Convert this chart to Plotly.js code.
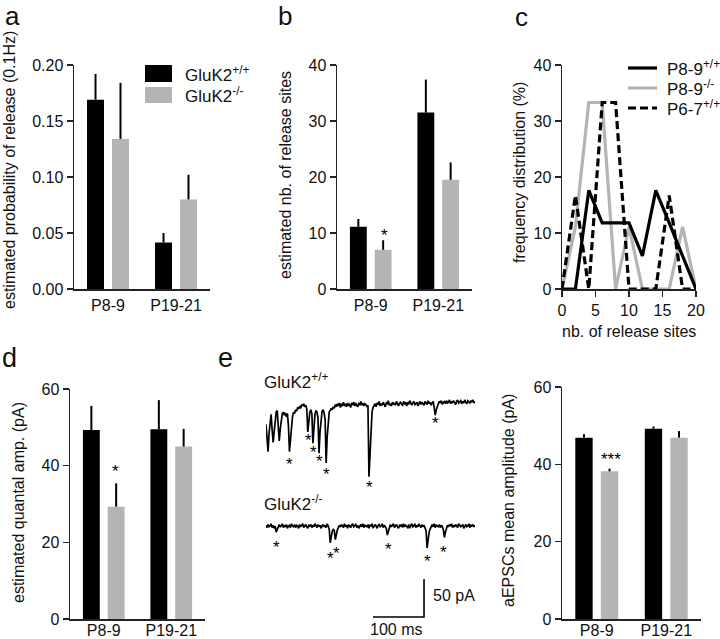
<!DOCTYPE html>
<html>
<head>
<meta charset="utf-8">
<script src="https://cdn.plot.ly/plotly-3.0.1.min.js"></script>
<style>html,body{margin:0;padding:0;background:#fff;}#chart{width:720px;height:639px;}</style>
</head>
<body>
<div id="chart"></div>
<script>
// ---------------- DATA ----------------
const ageGroups = ["P8-9", "P19-21"];
const genotypeNames = ["GluK2<sup>+/+</sup>", "GluK2<sup>-/-</sup>"];

// a: estimated probability of release (0.1Hz)
const probWT = [0.169, 0.0415];
const probWTerr = [0.023, 0.0085];
const probKO = [0.134, 0.080];
const probKOerr = [0.050, 0.022];

// b: estimated nb. of release sites
const sitesWT = [11.1, 31.5];
const sitesWTerr = [1.4, 5.9];
const sitesKO = [7.0, 19.5];
const sitesKOerr = [1.7, 3.1];

// c: frequency distribution (%) of nb. of release sites
const binCenters = [0, 2, 4, 6, 8, 10, 12, 14, 16, 18, 20];
const freqP89WT = [0, 0, 17.6, 11.8, 11.8, 11.8, 5.9, 17.6, 11.8, 5.9, 0];
const freqP89KO = [0, 11.1, 33.3, 33.3, 0, 11.1, 0, 0, 0, 11.1, 0];
const freqP67WT = [0, 16.7, 0, 33.3, 33.3, 0, 0, 0, 16.7, 0, 0];
const freqNames = ["P8-9<sup>+/+</sup>", "P8-9<sup>-/-</sup>", "P6-7<sup>+/+</sup>"];

// d: estimated quantal amp. (pA)
const quantWT = [49.3, 49.5];
const quantWTerr = [6.3, 7.6];
const quantKO = [29.3, 45.0];
const quantKOerr = [6.1, 4.6];

// e: aEPSCs mean amplitude (pA)
const aepscWT = [46.9, 49.2];
const aepscWTerr = [0.9, 0.6];
const aepscKO = [38.2, 46.9];
const aepscKOerr = [0.7, 1.7];

const zeroErr = [0, 0];

// e: example traces, current (pA) sampled every 2 ms from 0 to 410 ms
const sampleMs = 2;
const traceWT = [
 -28,-55,-64,-40,-22,-15,-35,-52,-38,-20,-12,-10,-30,-50,-34,-20,-14,-12,-16,-13,
 -18,-14,-30,-64,-45,-28,-18,-12,-14,-9,-11,-6,-8,-4,-7,-2,-4,-1,-5,-3,
 -8,-38,-22,-12,-9,-14,-53,-30,-15,-10,-12,-20,-66,-38,-18,-11,-9,-13,-22,-79,
 -45,-22,-12,-10,-7,-9,-5,
 -7,-2,-5,-1,-4,0,-6,-2,-3,1,-4,-1,-5,0,-3,-2,-6,-1,-2,1,-4,0,-3,-5,-1,-2,2,-3,0,-4,-1,-2,-5,
 -3,-97,-60,-28,-12,-6,
 -3,-1,-5,0,-2,2,-4,-1,-3,1,-2,-5,0,-1,3,-3,-1,-4,1,-2,0,-3,2,-1,-4,0,1,-2,-3,2,
 -1,0,-4,1,-2,3,-1,-3,0,2,-2,-1,1,-4,0,2,-2,1,-1,-3,2,0,-2,3,-1,1,-3,0,2,
 -6,-16,-9,-4,
 -1,2,0,3,-2,1,2,-1,3,0,1,4,-1,2,0,3,1,-2,2,4,0,1,3,-1,2,0,4,1,-1,3,2,0,3,1,4,0,2
];
const traceKO = [
 1,-2,2,-1,0,3,-2,1,-3,0,
 -8,-5,-2,
 2,-1,0,3,-2,1,-1,2,-3,0,1,-2,3,0,-1,2,-2,1,0,-3,2,-1,1,3,-2,0,2,-1,-3,1,0,2,-2,1,-1,3,0,-2,2,-1,1,-3,0,2,-1,1,-2,3,0,
 -4,-22,-14,-7,-4,-6,-18,-10,-5,-2,
 1,-1,2,0,-2,3,-1,1,-3,2,0,-2,1,3,-1,0,2,-2,1,-3,0,2,-1,3,-2,1,0,-1,2,-3,1,0,3,-2,-1,2,0,-3,1,2,-1,0,3,-2,1,-1,
 -3,-12,-6,-2,
 2,-1,1,3,-2,0,2,-1,-3,1,0,2,-2,3,-1,1,0,-2,2,-3,1,3,-1,0,2,-2,1,-1,3,0,-2,2,-1,1,-2,
 -6,-29,-16,-8,-4,
 0,2,-1,3,-2,1,0,-1,2,-2,1,-1,
 -5,-15,-8,-3,
 1,-1,2,0,3,-2,1,-1,2,0,-2,3,1,-1,0,2,-3,1,2,-1,0,3,-2,1,0,2,-1,1
];
// detected events (asterisks): time (ms), level (pA)
const starWTms = [46, 84, 93, 105, 119, 203, 333];
const starWTpA = [-74, -43, -58, -71, -88, -105, -21];
const starKOms = [21, 127, 139, 241, 316, 349];
const starKOpA = [-22, -36, -29, -24, -40, -28];
// scale bar
const scaleBarMs = 100;
const scaleBarPA = 50;

// ---------------- STYLE ----------------
const FONT = "Arial, 'Liberation Sans', Helvetica, sans-serif";
const INK = "#111111";
const BLACK = "#000000";
const GRAY = "#b4b4b4";
const W = 720, H = 639;
const px = v => v / W;
const py = v => 1 - v / H;

const tWT = traceWT.map((_, i) => i * sampleMs);
const tKO = traceKO.map((_, i) => i * sampleMs);

function barPair(xa, ya, wt, wtErr, ko, koErr) {
  const cat = [0, 1];
  const mk = (vals, err, col) => ({
    type: "bar", x: cat, y: vals, xaxis: xa, yaxis: ya,
    marker: { color: col, line: { width: 0 } }, showlegend: false, hoverinfo: "y",
    error_y: { type: "data", symmetric: false, array: err, arrayminus: zeroErr,
               color: BLACK, thickness: 2, width: 0, visible: true }
  });
  return [mk(wt, wtErr, BLACK), mk(ko, koErr, GRAY)];
}

const data = [
  ...barPair("x", "y", probWT, probWTerr, probKO, probKOerr),
  ...barPair("x2", "y2", sitesWT, sitesWTerr, sitesKO, sitesKOerr),
  ...barPair("x4", "y4", quantWT, quantWTerr, quantKO, quantKOerr),
  ...barPair("x5", "y5", aepscWT, aepscWTerr, aepscKO, aepscKOerr),
  { type: "scatter", mode: "lines", x: binCenters, y: freqP89KO, xaxis: "x3", yaxis: "y3",
    line: { color: GRAY, width: 3.2 }, showlegend: false },
  { type: "scatter", mode: "lines", x: binCenters, y: freqP67WT, xaxis: "x3", yaxis: "y3",
    line: { color: BLACK, width: 3.2, dash: "8px,4px" }, showlegend: false },
  { type: "scatter", mode: "lines", x: binCenters, y: freqP89WT, xaxis: "x3", yaxis: "y3",
    line: { color: BLACK, width: 3.2 }, showlegend: false },
  { type: "scatter", mode: "lines", x: tWT, y: traceWT, xaxis: "x6", yaxis: "y6",
    line: { color: BLACK, width: 1.7 }, showlegend: false, hoverinfo: "skip" },
  { type: "scatter", mode: "lines", x: tKO, y: traceKO, xaxis: "x6", yaxis: "y7",
    line: { color: BLACK, width: 1.7 }, showlegend: false, hoverinfo: "skip" },
  { type: "scatter", mode: "lines", xaxis: "x6", yaxis: "y7",
    x: [310 - scaleBarMs, 310, 310], y: [-119.7, -119.7, -119.7 + scaleBarPA],
    line: { color: BLACK, width: 1.6 }, showlegend: false, hoverinfo: "skip" }
];

const axBase = {
  showline: true, linecolor: "#222", linewidth: 1.5, showgrid: false, zeroline: false,
  ticks: "outside", ticklen: 6, tickwidth: 1.5, tickcolor: "#222",
  tickfont: { family: FONT, size: 16, color: INK }, fixedrange: true
};
const catX = (dom, anchor, standoff) => Object.assign({}, axBase, {
  domain: dom, anchor: anchor, range: [-0.5, 1.5], tickmode: "array",
  tickvals: [0, 1], ticktext: ageGroups, ticks: "", ticklabelstandoff: standoff
});
const valY = (dom, anchor, range, dtick, fmt) => Object.assign({}, axBase, {
  domain: dom, anchor: anchor, range: range, dtick: dtick, tick0: 0,
  tickformat: fmt || "", ticklabelstandoff: 0
});
const hidden = (dom, anchor, range) => ({
  domain: dom, anchor: anchor, range: range, visible: false, fixedrange: true
});

const topY = [py(289), py(65)];
const botYd = [py(619), py(389)];
const botYe = [py(619), py(387)];

const layout = {
  width: W, height: H, margin: { l: 0, r: 0, t: 0, b: 0 },
  paper_bgcolor: "#fff", plot_bgcolor: "rgba(0,0,0,0)",
  showlegend: false, barmode: "group", bargap: 0.265, bargroupgap: 0.32,
  font: { family: FONT, color: INK },
  xaxis: catX([px(74), px(210)], "y", 1),
  yaxis: valY(topY, "x", [0, 0.2], 0.05, ".2f"),
  xaxis2: catX([px(337), px(472)], "y2", 1),
  yaxis2: valY(topY, "x2", [0, 40], 10),
  xaxis3: Object.assign({}, axBase, { domain: [px(562), px(696)], anchor: "y3",
    range: [0, 20], dtick: 5, tick0: 0 }),
  yaxis3: valY(topY, "x3", [0, 40], 10),
  xaxis4: catX([px(70), px(205)], "y4", -4),
  yaxis4: valY(botYd, "x4", [0, 60], 20),
  xaxis5: catX([px(562), px(701)], "y5", -4),
  yaxis5: valY(botYe, "x5", [0, 60], 20),
  xaxis6: hidden([px(266), px(475)], "y6", [0, 410]),
  yaxis6: hidden([py(485), py(395)], "x6", [-107.9, 10.5]),
  yaxis7: hidden([py(622), py(515)], "x6", [-126.3, 14.5]),
  shapes: [
    { type: "rect", xref: "paper", yref: "paper", x0: px(145), x1: px(172), y0: py(82), y1: py(65),
      fillcolor: BLACK, line: { width: 0 } },
    { type: "rect", xref: "paper", yref: "paper", x0: px(145), x1: px(172), y0: py(103), y1: py(87),
      fillcolor: GRAY, line: { width: 0 } },
    { type: "line", xref: "paper", yref: "paper", x0: px(628), x1: px(657), y0: py(68), y1: py(68),
      line: { color: BLACK, width: 3.2 } },
    { type: "line", xref: "paper", yref: "paper", x0: px(628), x1: px(657), y0: py(88), y1: py(88),
      line: { color: GRAY, width: 3.2 } },
    { type: "line", xref: "paper", yref: "paper", x0: px(628), x1: px(657), y0: py(108), y1: py(108),
      line: { color: BLACK, width: 3.2, dash: "8px,4px" } }
  ],
  annotations: []
};

const A = layout.annotations;
function txt(text, x, y, size, opts) {
  A.push(Object.assign({ text: text, xref: "paper", yref: "paper", x: px(x), y: py(y),
    showarrow: false, xanchor: "center", yanchor: "middle",
    font: { family: FONT, size: size, color: INK } }, opts || {}));
}
// panel letters
txt("a", 4, 16, 26, { xanchor: "left", borderpad: 0 });
txt("b", 277, 16, 26, { xanchor: "left", borderpad: 0 });
txt("c", 514, 17, 26, { xanchor: "left", borderpad: 0 });
txt("d", 1, 358, 27, { xanchor: "left", borderpad: 0 });
txt("e", 217, 358, 27, { xanchor: "left", borderpad: 0 });
// y titles
txt("estimated probability of release (0.1Hz)", 9, 170, 16, { textangle: -90 });
txt("estimated nb. of release sites", 286, 175, 16, { textangle: -90 });
txt("frequency distribution (%)", 519, 173, 16, { textangle: -90 });
txt("estimated quantal amp. (pA)", 18, 503, 16, { textangle: -90 });
txt("aEPSCs mean amplitude (pA)", 508, 501, 16, { textangle: -90 });
txt("nb. of release sites", 629, 331, 16);
// legends
txt(genotypeNames[0], 183, 74, 17, { xanchor: "left" });
txt(genotypeNames[1], 183, 95, 17, { xanchor: "left" });
txt(freqNames[0], 665, 68, 17, { xanchor: "left" });
txt(freqNames[1], 665, 88, 17, { xanchor: "left" });
txt(freqNames[2], 665, 108, 17, { xanchor: "left" });
// trace labels & scale bar labels
txt(genotypeNames[0], 262, 381, 17, { xanchor: "left" });
txt(genotypeNames[1], 262, 503, 17, { xanchor: "left" });
txt(scaleBarPA + " pA", 431, 595, 16, { xanchor: "left" });
txt(scaleBarMs + " ms", 396, 629, 16);
// significance / event asterisks
function star(text, xa, ya, x, y) {
  A.push({ text: text, xref: xa, yref: ya, x: x, y: y, showarrow: false,
    xanchor: "center", yanchor: "middle", yshift: -5, borderpad: 0,
    font: { family: FONT, size: 17, color: BLACK } });
}
star("*", "x2", "y2", 0.2, 10.5);
star("*", "x4", "y4", 0.18, 39.7);
star("***", "x5", "y5", 0.2, 42.6);
starWTms.forEach((t, i) => star("*", "x6", "y6", t, starWTpA[i]));
starKOms.forEach((t, i) => star("*", "x6", "y7", t, starKOpA[i]));

Plotly.newPlot("chart", data, layout, { staticPlot: true, displayModeBar: false });
</script>
</body>
</html>
